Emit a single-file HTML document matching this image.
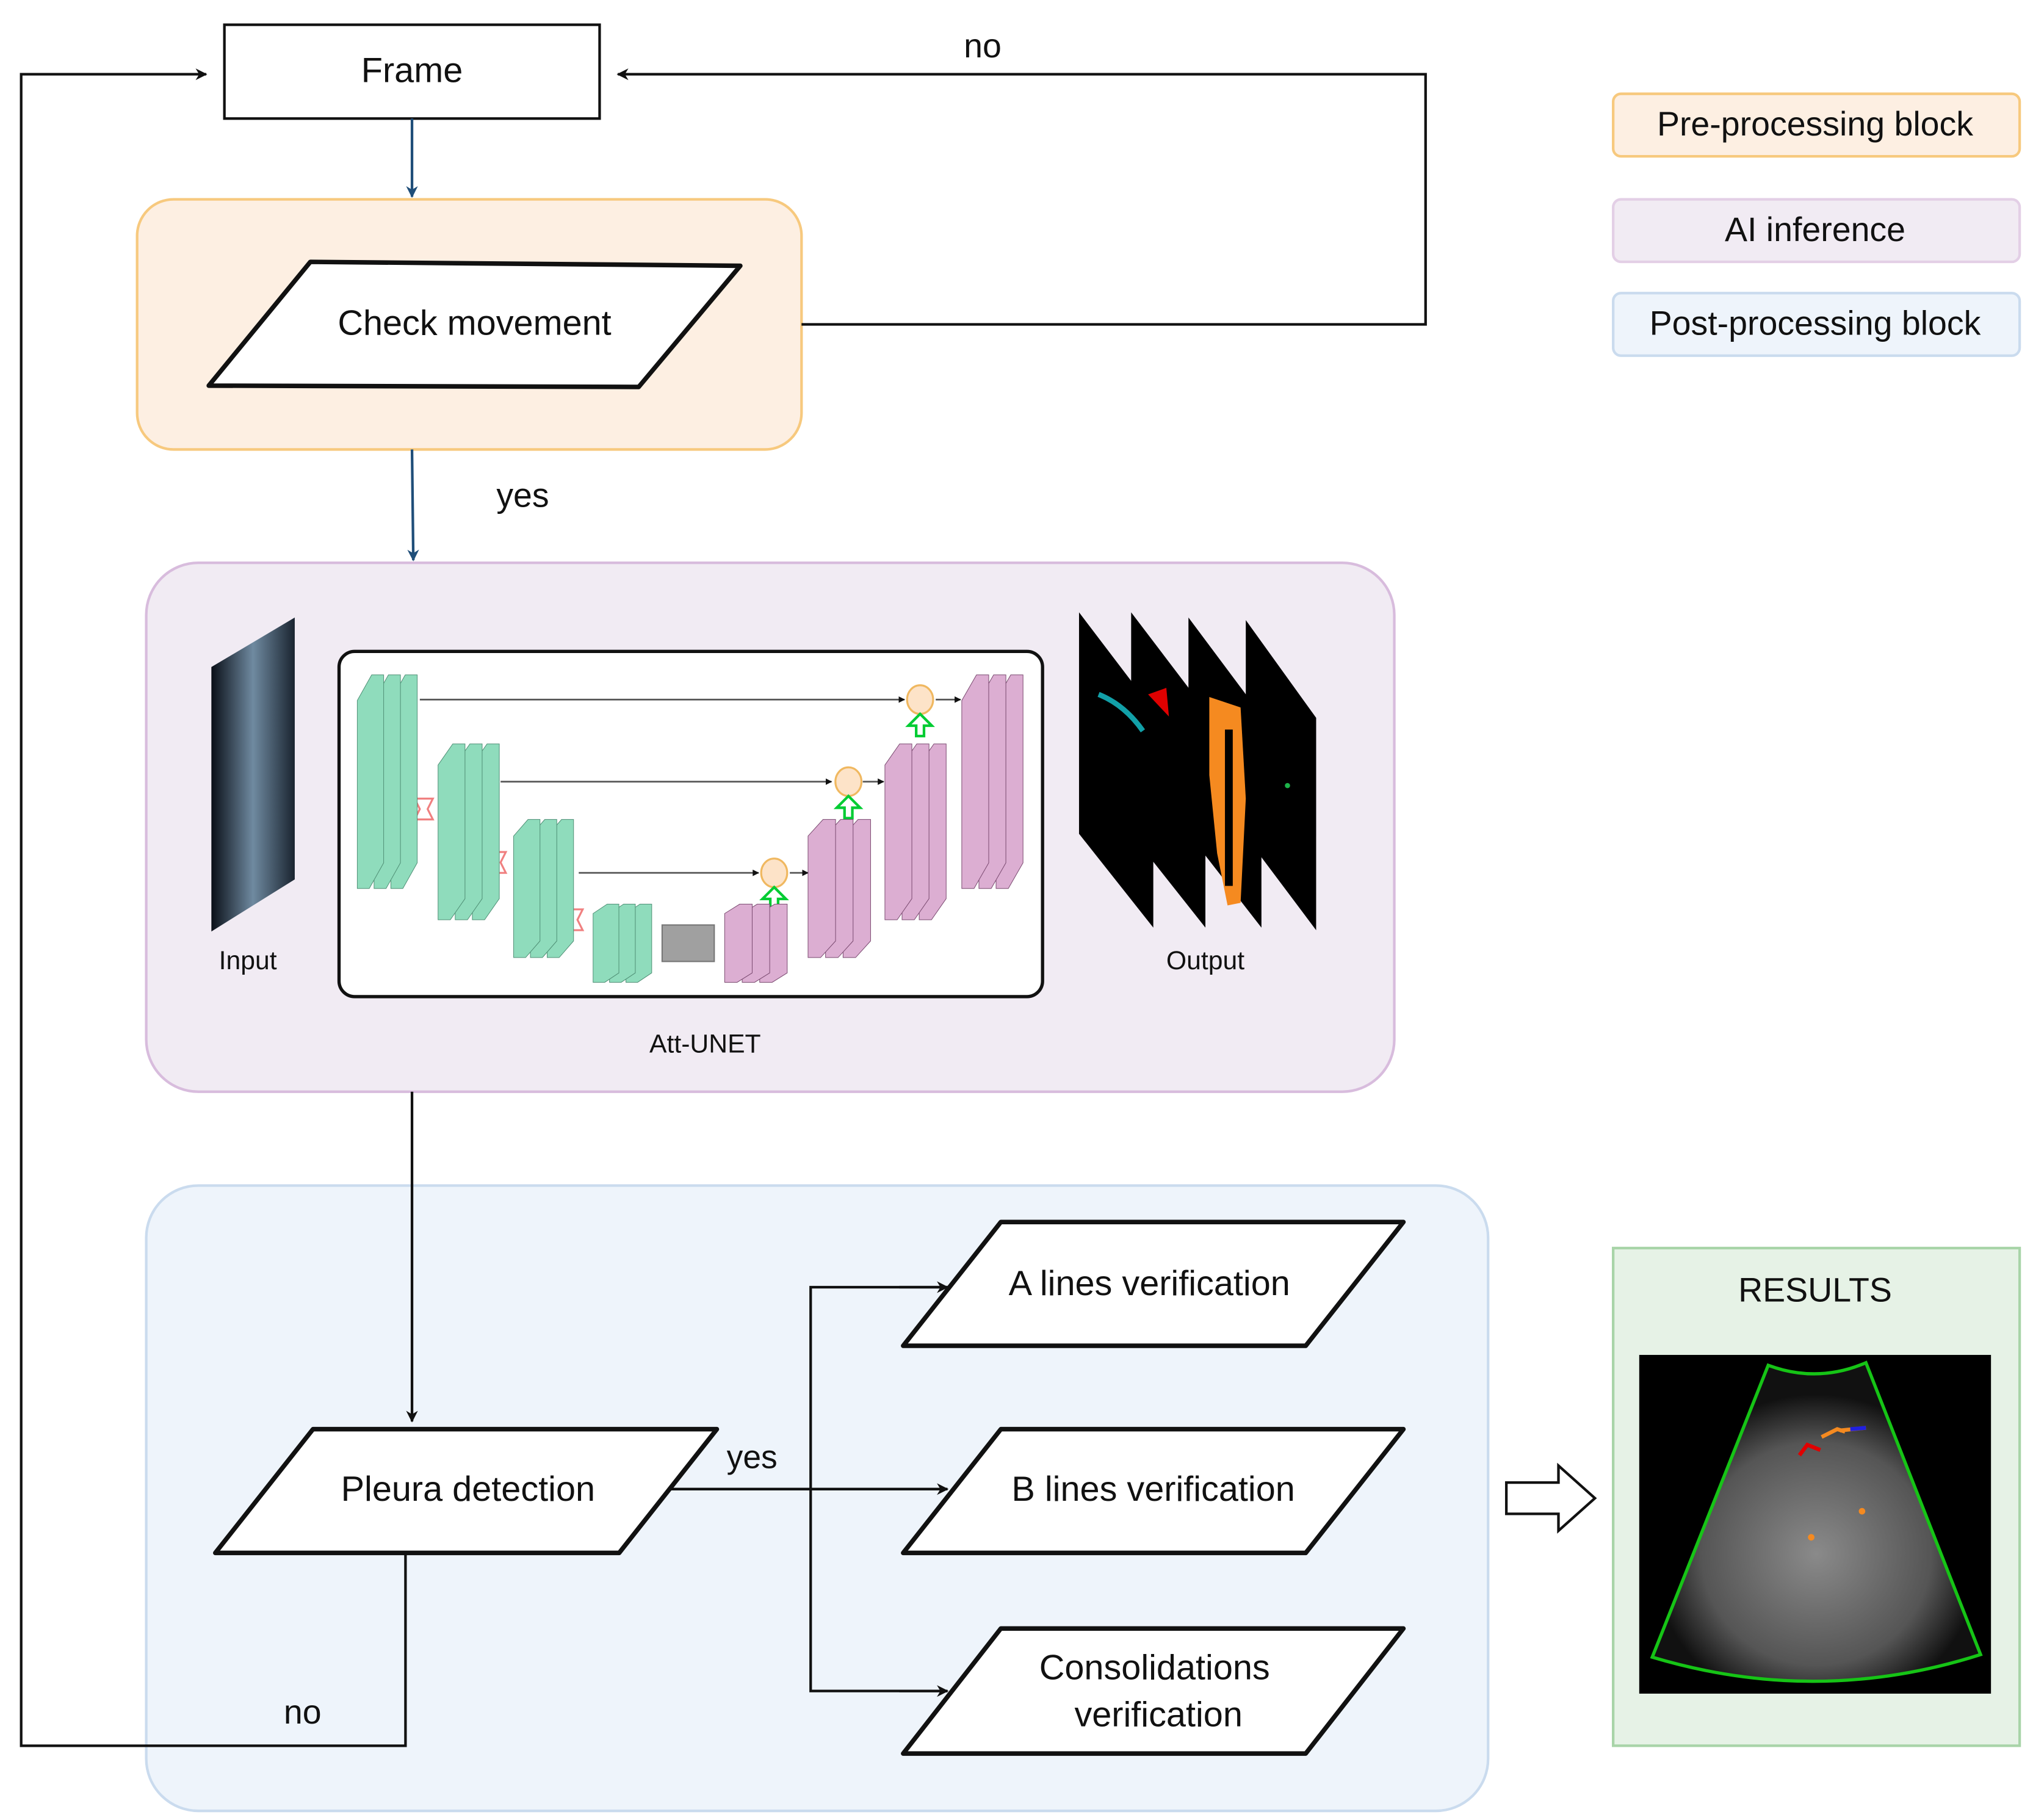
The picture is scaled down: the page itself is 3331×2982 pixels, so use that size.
<!DOCTYPE html>
<html><head><meta charset="utf-8"><style>
html,body{margin:0;padding:0;background:#fff;}
svg{display:block;}
text{font-family:"Liberation Sans",sans-serif;fill:#111;}
</style></head><body>
<svg width="3331" height="2982" viewBox="0 0 1560 1397" xmlns="http://www.w3.org/2000/svg">
<defs>
<marker id="ah" viewBox="0 0 10 10" refX="9" refY="5" markerWidth="9" markerHeight="9" markerUnits="userSpaceOnUse" orient="auto"><path d="M0,0 L10,5 L0,10 L3,5 z" fill="#111"/></marker>
<marker id="ahb" viewBox="0 0 10 10" refX="9" refY="5" markerWidth="9" markerHeight="9" markerUnits="userSpaceOnUse" orient="auto"><path d="M0,0 L10,5 L0,10 L3,5 z" fill="#1f4e79"/></marker>
<marker id="ahs" viewBox="0 0 10 10" refX="9" refY="5" markerWidth="5" markerHeight="5" markerUnits="userSpaceOnUse" orient="auto"><path d="M0,0 L10,5 L0,10 z" fill="#111"/></marker>
<g id="blk">
<polygon points="0.56,0.12 0.80,0 1,0 1,0.88 0.76,1 0.56,1" vector-effect="non-scaling-stroke"/>
<polygon points="0.28,0.12 0.52,0 0.72,0 0.72,0.88 0.48,1 0.28,1" vector-effect="non-scaling-stroke"/>
<polygon points="0,0.12 0.24,0 0.44,0 0.44,0.88 0.20,1 0,1" vector-effect="non-scaling-stroke"/>
</g>
<linearGradient id="us" x1="0" y1="0" x2="1" y2="0"><stop offset="0" stop-color="#0a0f18"/><stop offset="0.5" stop-color="#6f8aa0"/><stop offset="1" stop-color="#1a2430"/></linearGradient>
<radialGradient id="fan" cx="0.5" cy="0.6" r="0.5"><stop offset="0" stop-color="#8a8a8a"/><stop offset="0.7" stop-color="#555"/><stop offset="1" stop-color="#111"/></radialGradient>
</defs>

<!-- blocks -->
<rect x="105" y="153" width="510" height="192" rx="28" fill="#fdefe2" stroke="#f7c97e" stroke-width="2"/>
<rect x="112" y="432" width="958" height="406" rx="40" fill="#f1ebf3" stroke="#d8bcdd" stroke-width="2"/>
<rect x="112" y="910" width="1030" height="480" rx="40" fill="#eef4fb" stroke="#cadbee" stroke-width="2"/>

<!-- legend -->
<rect x="1238" y="72" width="312" height="48" rx="6" fill="#fdefe2" stroke="#f7c97e" stroke-width="2"/>
<text x="1393" y="104" font-size="26" text-anchor="middle">Pre-processing block</text>
<rect x="1238" y="153" width="312" height="48" rx="6" fill="#f1ebf3" stroke="#e3cfe6" stroke-width="2"/>
<text x="1393" y="185" font-size="26" text-anchor="middle">AI inference</text>
<rect x="1238" y="225" width="312" height="48" rx="6" fill="#eef4fb" stroke="#cadbee" stroke-width="2"/>
<text x="1393" y="257" font-size="26" text-anchor="middle">Post-processing block</text>

<!-- Frame -->
<rect x="172" y="19" width="288" height="72" fill="#fff" stroke="#111" stroke-width="2"/>
<text x="316" y="63" font-size="27" text-anchor="middle">Frame</text>

<!-- connectors -->
<polyline points="311,1193 311,1340 16,1340 16,57 158,57" fill="none" stroke="#111" stroke-width="2" marker-end="url(#ah)"/>
<polyline points="615,249 1094,249 1094,57 474,57" fill="none" stroke="#111" stroke-width="2" marker-end="url(#ah)"/>
<text x="754" y="44" font-size="26" text-anchor="middle">no</text>
<line x1="316" y1="91" x2="316" y2="151" stroke="#1f4e79" stroke-width="2" marker-end="url(#ahb)"/>
<line x1="316" y1="345" x2="317" y2="430" stroke="#1f4e79" stroke-width="2" marker-end="url(#ahb)"/>
<text x="401" y="389" font-size="26" text-anchor="middle">yes</text>
<line x1="316" y1="838" x2="316" y2="1091" stroke="#111" stroke-width="2" marker-end="url(#ah)"/>
<line x1="510" y1="1143" x2="727" y2="1143" stroke="#111" stroke-width="2" marker-end="url(#ah)"/>
<polyline points="727,988 622,988 622,1298 727,1298" fill="none" stroke="#111" stroke-width="2"/>
<line x1="690" y1="988" x2="727" y2="988" stroke="#111" stroke-width="2" marker-end="url(#ah)"/>
<line x1="690" y1="1298" x2="727" y2="1298" stroke="#111" stroke-width="2" marker-end="url(#ah)"/>
<text x="577" y="1127" font-size="25" text-anchor="middle">yes</text>
<text x="232" y="1323" font-size="26" text-anchor="middle">no</text>

<!-- parallelograms -->
<g fill="#fff" stroke="#111" stroke-width="3.5" stroke-linejoin="round">
<polygon points="160,296 238,201 568,204 490,297"/>
<polygon points="165,1192 240,1097 550,1097 475,1192"/>
<polygon points="693,1033 768,938 1077,938 1002,1033"/>
<polygon points="693,1192 768,1097 1077,1097 1002,1192"/>
<polygon points="693,1346 768,1250 1077,1250 1002,1346"/>
</g>
<text x="364" y="257" font-size="27" text-anchor="middle">Check movement</text>
<text x="359" y="1152" font-size="27" text-anchor="middle">Pleura detection</text>
<text x="882" y="994" font-size="27" text-anchor="middle">A lines verification</text>
<text x="885" y="1152" font-size="27" text-anchor="middle">B lines verification</text>
<text x="886" y="1289" font-size="27" text-anchor="middle">Consolidations</text>
<text x="889" y="1325" font-size="27" text-anchor="middle">verification</text>

<!-- AI inference content -->
<polygon points="162,512 226,474 226,675 162,715" fill="url(#us)"/>
<text x="190" y="744" font-size="20" text-anchor="middle">Input</text>
<rect x="260" y="500" width="540" height="265" rx="12" fill="#fff" stroke="#111" stroke-width="2.5"/>
<text x="541" y="808" font-size="20" text-anchor="middle">Att-UNET</text>
<g stroke="#555" stroke-width="1.3" fill="none">
<line x1="322" y1="537" x2="694" y2="537" marker-end="url(#ahs)"/>
<line x1="718" y1="537" x2="737" y2="537" marker-end="url(#ahs)"/>
<line x1="384" y1="600" x2="638" y2="600" marker-end="url(#ahs)"/>
<line x1="662" y1="600" x2="678" y2="600" marker-end="url(#ahs)"/>
<line x1="444" y1="670" x2="582" y2="670" marker-end="url(#ahs)"/>
<line x1="606" y1="670" x2="620" y2="670" marker-end="url(#ahs)"/>
</g>
<g fill="#fde3c8" stroke="#f0b860" stroke-width="1.5">
<ellipse cx="706" cy="537" rx="10" ry="11"/><ellipse cx="651" cy="600" rx="10" ry="11"/><ellipse cx="594" cy="670" rx="10" ry="11"/>
</g>
<g fill="none" stroke="#00cc33" stroke-width="2">
<path d="M703,565 v-8 h-6 l9,-9 l9,9 h-6 v8 z"/>
<path d="M648,628 v-8 h-6 l9,-9 l9,9 h-6 v8 z"/>
<path d="M591,698 v-8 h-6 l9,-9 l9,9 h-6 v8 z"/>
</g>
<g fill="none" stroke="#f08080" stroke-width="1.5">
<path d="M318,613 l4,8 l-4,8 h14 l-4,-8 l4,-8 z"/>
<path d="M374,654 l4,8 l-4,8 h14 l-4,-8 l4,-8 z"/>
<path d="M433,698 l4,8 l-4,8 h14 l-4,-8 l4,-8 z"/>
</g>
<g fill="#8fdcbc" stroke="#4f8f75" stroke-width="1">
<use href="#blk" transform="translate(274,518) scale(46,164)"/>
<use href="#blk" transform="translate(336,571) scale(47,135)"/>
<use href="#blk" transform="translate(394,629) scale(46,106)"/>
<use href="#blk" transform="translate(455,694) scale(45,60)"/>
</g>
<rect x="508" y="710" width="40" height="28" fill="#a0a0a0" stroke="#777"/>
<g fill="#dcaed2" stroke="#7a4a70" stroke-width="1">
<use href="#blk" transform="translate(556,694) scale(48,60)"/>
<use href="#blk" transform="translate(620,629) scale(48,106)"/>
<use href="#blk" transform="translate(679,571) scale(47,135)"/>
<use href="#blk" transform="translate(738,518) scale(47,164)"/>
</g>
<g fill="#000">
<polygon points="828,470 885,545 885,712 828,640"/>
<polygon points="868,470 925,545 925,712 868,640"/>
<polygon points="912,474 968,549 968,712 912,640"/>
<polygon points="956,476 1010,551 1010,714 956,642"/>
</g>
<path d="M843,533 q20,8 34,28" stroke="#12a0a8" stroke-width="4" fill="none"/>
<path d="M881,533 l14,-5 l2,22 z" fill="#e00000"/>
<path d="M928,535 l24,8 l4,70 l-4,80 l-10,2 l-8,-40 l-6,-60 z" fill="#f58a20"/>
<rect x="940" y="560" width="6" height="120" fill="#000"/>
<circle cx="988" cy="603" r="2" fill="#1db34a"/>
<text x="925" y="744" font-size="20" text-anchor="middle">Output</text>

<!-- results -->
<rect x="1238" y="958" width="312" height="382" fill="#e6f2e6" stroke="#a8d4a8" stroke-width="2"/>
<text x="1393" y="999" font-size="26" text-anchor="middle">RESULTS</text>
<rect x="1258" y="1040" width="270" height="260" fill="#000"/>
<path d="M1357,1048 Q1395,1062 1432,1046 L1520,1270 Q1395,1310 1268,1272 Z" fill="url(#fan)" stroke="#16c416" stroke-width="2.5"/>
<path d="M1398,1103 l12,-6 l6,2 M1412,1098 l20,-2" stroke="#f58a20" stroke-width="3" fill="none"/>
<path d="M1420,1097 l12,-1" stroke="#2020e0" stroke-width="3"/>
<path d="M1381,1117 l6,-8 l10,4" stroke="#e00000" stroke-width="3" fill="none"/>
<circle cx="1429" cy="1160" r="2.5" fill="#f58a20"/><circle cx="1390" cy="1180" r="2.5" fill="#f58a20"/>

<!-- hollow arrow -->
<path d="M1156,1138 h40 v-13 l28,25 l-28,25 v-13 h-40 z" fill="#fff" stroke="#111" stroke-width="2"/>
</svg>
</body></html>
